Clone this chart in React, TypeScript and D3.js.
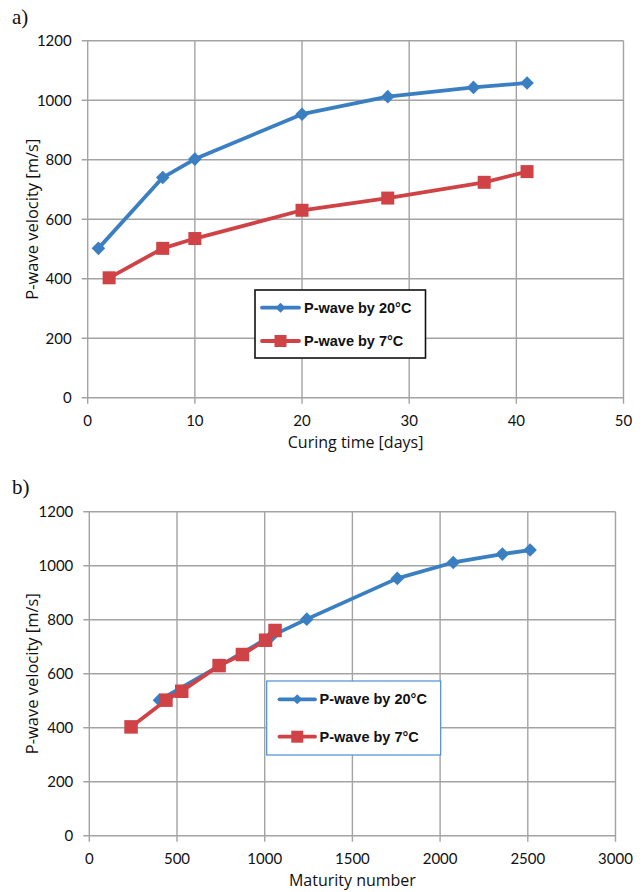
import React from "react";
import * as d3 from "d3";

// ---- data ----
const curingDays20 = [1, 7, 10, 20, 28, 36, 41];
const curingDays7 = [2, 7, 10, 20, 28, 37, 41];
const velocity20 = [502, 740, 802, 953, 1012, 1043, 1058];
const velocity7 = [403, 502, 535, 630, 671, 724, 760];
const maturity20 = [400, 1040, 1240, 1756, 2075, 2355, 2513];
const maturity7 = [238, 437, 527, 740, 873, 1005, 1059];

const xTicksA = [0, 10, 20, 30, 40, 50];
const xTicksB = [0, 500, 1000, 1500, 2000, 2500, 3000];
const yTicks = [0, 200, 400, 600, 800, 1000, 1200];

const seriesNames = ["P-wave by 20", "P-wave by 7"];
const degreeUnit = "°C";

const BLUE = "#3a7fc2";
const RED = "#cf4346";
const GRID = "#a3a3a3";
const TICKFONT = "Lato, 'Open Sans', sans-serif";
const TITLEFONT = "'Open Sans', Lato, sans-serif";

type Panel = {
  label: string;
  labelY: number;
  x0: number; x1: number; y0: number; y1: number;
  xDomain: [number, number];
  xTicks: number[];
  xTitle: string;
  blueX: number[];
  redX: number[];
  legend: { x: number; y: number; w: number; h: number; border: string; bw: number; lineX0: number; lineX1: number; textX: number; rows: number[] };
  sq: number;
};

const panels: Panel[] = [
  {
    label: "a)", labelY: 24,
    x0: 87.7, x1: 623.5, y0: 397.7, y1: 40.7,
    xDomain: [0, 50], xTicks: xTicksA, xTitle: "Curing time [days]",
    blueX: curingDays20, redX: curingDays7,
    legend: { x: 255, y: 290, w: 170.5, h: 68, border: "#111", bw: 1.6, lineX0: 262, lineX1: 299, textX: 304, rows: [307.7, 341] },
    sq: 13,
  },
  {
    label: "b)", labelY: 494,
    x0: 89.3, x1: 615.5, y0: 835.7, y1: 511.7,
    xDomain: [0, 3000], xTicks: xTicksB, xTitle: "Maturity number",
    blueX: maturity20, redX: maturity7,
    legend: { x: 266.7, y: 681, w: 174, h: 74, border: "#4a90d4", bw: 1.2, lineX0: 279.5, lineX1: 315, textX: 319.5, rows: [699.3, 736.7] },
    sq: 13.5,
  },
];

const diamond = (cx: number, cy: number, r: number) =>
  `M${cx},${cy - r}L${cx + r},${cy}L${cx},${cy + r}L${cx - r},${cy}Z`;

function ChartPanel({ p }: { p: Panel }) {
  const x = d3.scaleLinear().domain(p.xDomain).range([p.x0, p.x1]);
  const y = d3.scaleLinear().domain([0, 1200]).range([p.y0, p.y1]);
  const line = d3.line<[number, number]>().x((d) => x(d[0])).y((d) => y(d[1]));
  const blue: [number, number][] = p.blueX.map((v, i) => [v, velocity20[i]]);
  const red: [number, number][] = p.redX.map((v, i) => [v, velocity7[i]]);
  const L = p.legend;
  return (
    <g>
      <text x={12} y={p.labelY} fontFamily="'Liberation Serif', 'DejaVu Serif', serif" fontSize={21} fill="#111">{p.label}</text>
      {/* grid */}
      {yTicks.map((t) => (
        <line key={"gy" + t} x1={p.x0 - 6} x2={p.x1} y1={y(t)} y2={y(t)} stroke={GRID} strokeWidth={1.4} />
      ))}
      {p.xTicks.map((t) => (
        <line key={"gx" + t} x1={x(t)} x2={x(t)} y1={p.y1} y2={p.y0 + 6} stroke={GRID} strokeWidth={1.4} />
      ))}
      {/* tick labels */}
      {yTicks.map((t) => (
        <text key={"ty" + t} x={p.x0 - 16} y={y(t) + 5.5} textAnchor="end" fontFamily={TICKFONT} fontSize={15} fill="#111">{t}</text>
      ))}
      {p.xTicks.map((t) => (
        <text key={"tx" + t} x={x(t)} y={p.y0 + 28.5} textAnchor="middle" fontFamily={TICKFONT} fontSize={15} fill="#111">{t}</text>
      ))}
      <text x={(p.x0 + p.x1) / 2} y={p.y0 + 50} textAnchor="middle" fontFamily={TITLEFONT} fontSize={16} fill="#111">{p.xTitle}</text>
      <text transform={`translate(38,${(p.y0 + p.y1) / 2}) rotate(-90)`} textAnchor="middle" fontFamily={TITLEFONT} fontSize={16.5} fill="#111">P-wave velocity [m/s]</text>
      {/* series */}
      <path d={line(blue) ?? ""} fill="none" stroke={BLUE} strokeWidth={3.8} strokeLinejoin="round" />
      {blue.map((d, i) => (
        <path key={"bm" + i} d={diamond(x(d[0]), y(d[1]), 6.8)} fill={BLUE} />
      ))}
      <path d={line(red) ?? ""} fill="none" stroke={RED} strokeWidth={3.8} strokeLinejoin="round" />
      {red.map((d, i) => (
        <rect key={"rm" + i} x={x(d[0]) - p.sq / 2} y={y(d[1]) - p.sq / 2} width={p.sq} height={p.sq} fill={RED} />
      ))}
      {/* legend */}
      <rect x={L.x} y={L.y} width={L.w} height={L.h} fill="#fff" stroke={L.border} strokeWidth={L.bw} />
      {[BLUE, RED].map((c, i) => {
        const cy = L.rows[i];
        const mx = (L.lineX0 + L.lineX1) / 2;
        return (
          <g key={"lg" + i}>
            <line x1={L.lineX0} x2={L.lineX1} y1={cy} y2={cy} stroke={c} strokeWidth={3.8} strokeLinecap="round" />
            {i === 0 ? (
              <path d={diamond(mx, cy, 5)} fill={c} />
            ) : (
              <rect x={mx - 6} y={cy - 6} width={12} height={12} fill={c} />
            )}
            <text x={L.textX} y={cy + 5} fontFamily="'Liberation Sans', Arial, sans-serif" fontWeight="bold" fontSize={14.5} fill="#111">
              {seriesNames[i] + degreeUnit}
            </text>
          </g>
        );
      })}
    </g>
  );
}

export default function App() {
  return (
    <div style={{ position: "absolute", left: 0, top: 0 }}>
      <svg width={643} height={892} style={{ display: "block", background: "#fff" }}>
        {panels.map((p, i) => (
          <ChartPanel key={i} p={p} />
        ))}
      </svg>
    </div>
  );
}
